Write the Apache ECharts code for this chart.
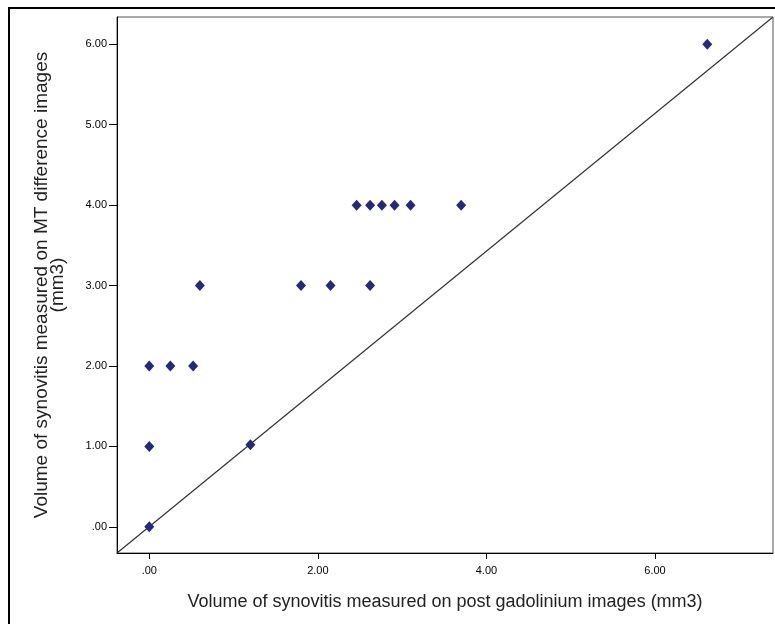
<!DOCTYPE html>
<html style="height: 100%">
<head>
<meta charset="utf-8">
<title>Synovitis volume scatter</title>
<script src="https://cdn.jsdelivr.net/npm/echarts@6/dist/echarts.min.js"></script>
</head>
<body style="height: 100%; margin: 0; background: #fff">
<div id="main" style="width: 775px; height: 624px;"></div>
<script type="text/javascript">
// post gadolinium volume (x) vs MT difference volume (y)
var postGad = [0, 0, 0, 0.25, 0.52, 0.6, 1.2, 1.8, 2.15, 2.62, 2.46, 2.62, 2.76, 2.91, 3.1, 3.7, 6.62];
var mtDiff  = [0, 1, 2, 2,    2,    3,   1.02, 3,  3,    3,    4,    4,    4,    4,    4,   4,   6];
var xTicks = [0, 2, 4, 6];
var yTicks = [0, 1, 2, 3, 4, 5, 6];
// reference line, corner to corner of the plot
var refX = [-0.383, 7.40];
var refY = [-0.326, 6.34];

var points = [];
for (var i = 0; i < postGad.length; i++) {
  points.push([postGad[i], mtDiff[i]]);
}
var refLine = [[refX[0], refY[0]], [refX[1], refY[1]]];

function fmt(v) {
  return v === 0 ? '.00' : v.toFixed(2);
}

var myChart = echarts.init(document.getElementById('main'));
var option = {
  backgroundColor: '#fff',
  animation: false,
  graphic: [{
    type: 'rect',
    shape: { x: 9, y: 8, width: 800, height: 700 },
    style: { fill: 'none', stroke: '#000', lineWidth: 2 },
    z: 100
  }],
  grid: {
    left: 117, top: 17, right: 2, bottom: 71,
    show: true, borderColor: '#555', borderWidth: 1
  },
  xAxis: {
    type: 'value',
    min: refX[0], max: refX[1],
    name: 'Volume of synovitis measured on post gadolinium images (mm3)',
    nameLocation: 'middle', nameGap: 40,
    nameTextStyle: { fontFamily: 'Liberation Sans', fontSize: 18, color: '#222' },
    axisLine: { show: true, onZero: false, lineStyle: { color: '#000', width: 1 } },
    axisTick: { show: true, customValues: xTicks, length: 6, lineStyle: { color: '#000' } },
    axisLabel: { customValues: xTicks, formatter: fmt, fontFamily: 'Liberation Sans', fontSize: 11, color: '#000', margin: 12 },
    splitLine: { show: false }
  },
  yAxis: {
    type: 'value',
    min: refY[0], max: refY[1],
    name: 'Volume of synovitis measured on MT difference images\n(mm3)',
    nameLocation: 'middle', nameGap: 51,
    nameTextStyle: { fontFamily: 'Liberation Sans', fontSize: 19, color: '#222', lineHeight: 16 },
    axisLine: { show: true, onZero: false, lineStyle: { color: '#000', width: 1 } },
    axisTick: { show: true, customValues: yTicks, length: 8, lineStyle: { color: '#000' } },
    axisLabel: { customValues: yTicks, formatter: fmt, fontFamily: 'Liberation Sans', fontSize: 11, color: '#000', margin: 10 },
    splitLine: { show: false }
  },
  series: [
    {
      type: 'line',
      data: refLine,
      symbol: 'none',
      lineStyle: { color: '#333', width: 1.2 },
      z: 1
    },
    {
      type: 'scatter',
      data: points,
      symbol: 'diamond',
      symbolSize: [10, 11],
      itemStyle: { color: '#262a74', opacity: 1 },
      z: 3
    }
  ]
};
myChart.setOption(option, true);
</script>
</body>
</html>
